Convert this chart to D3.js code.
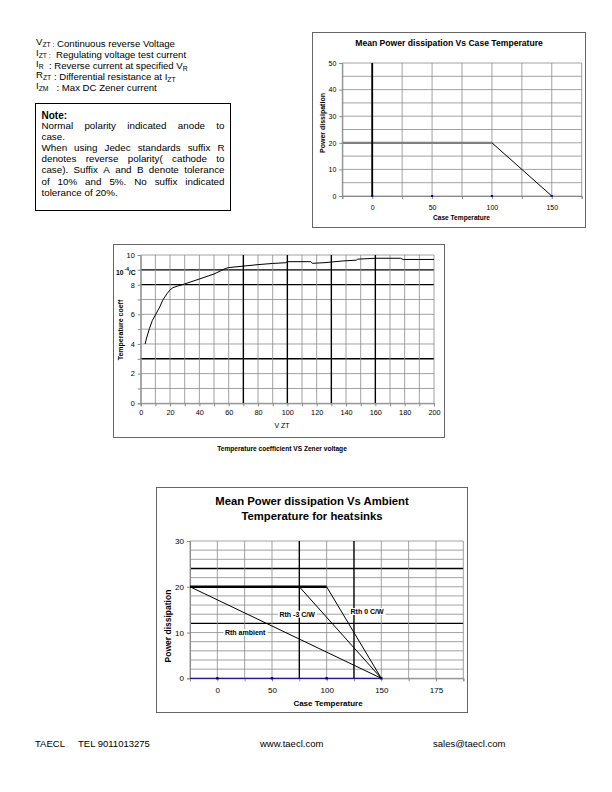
<!DOCTYPE html>
<html>
<head>
<meta charset="utf-8">
<script src="https://cdn.jsdelivr.net/npm/d3@7"></script>
<style>
body { margin: 0; background: #fff; }
svg text { font-family: "Liberation Sans", Arial, sans-serif; }
</style>
</head>
<body>
<div id="page"></div>
<script>
// ---- data ----
// chart 1: mean power dissipation vs case temperature
const c1XTicks = [0, 50, 100, 150];
const c1YTicks = [0, 10, 20, 30, 40, 50];
const c1PlateauTemp = [-25, 100];
const c1PlateauPower = [20, 20];
const c1DerateTemp = [100, 150];
const c1DeratePower = [20, 0];
const c1BarTemp = [0, 0];
const c1BarPower = [0, 50];
const c1MarkerTemp = [0, 50, 100, 150];

// chart 2: temperature coefficient vs zener voltage
const c2XTicks = [0, 20, 40, 60, 80, 100, 120, 140, 160, 180, 200];
const c2YTicks = [0, 2, 4, 6, 8, 10];
const vzt = [3, 4, 6, 8, 10, 13, 15, 18, 20, 22, 25, 30, 40, 50, 58, 60, 70, 80, 90, 99, 100, 116, 117, 125, 138, 147, 148, 160, 177, 179, 200];
const tempCoeff = [4.0, 4.4, 5.05, 5.6, 5.95, 6.5, 6.95, 7.4, 7.65, 7.8, 7.9, 8.05, 8.38, 8.72, 9.1, 9.15, 9.25, 9.35, 9.43, 9.48, 9.55, 9.55, 9.44, 9.48, 9.6, 9.65, 9.72, 9.78, 9.78, 9.7, 9.7];

// chart 3: mean power dissipation vs ambient temperature for heatsinks
const c3XTickPos = [0, 50, 100, 150, 200];
const c3XLabels = ["0", "50", "100", "150", "175"];
const c3YTicks = [0, 10, 20, 30];
const c3PlateauTemp = [-25, 100];
const c3PlateauPower = [20, 20];
const c3Rth3Temp = [75, 150];
const c3Rth3Power = [20, 0];
const c3Rth0Temp = [100, 150];
const c3Rth0Power = [20, 0];
const c3AmbTemp = [-25, 150];
const c3AmbPower = [20, 0];
const c3ZeroTemp = [-25, 150];
const c3MarkerTemp = [0, 50, 100, 150];
const c3Labels = ["Rth -3 C/W", "Rth 0 C/W", "Rth ambient"];
const c3LabelTemp = [73, 137, 25.5];
const c3LabelPower = [14, 14.6, 10];

const FONT = '"Liberation Sans", Arial, sans-serif';
const GRID = "#8a8a8a";

const svg = d3.select("#page").append("svg")
    .attr("width", 612)
    .attr("height", 792);

// ---- header text with subscripts ----
const defs = [
    [["V", 0], ["ZT :", 1], [" Continuous reverse Voltage", 0]],
    [["I", 0], ["ZT :", 1], ["  Regulating voltage test current", 0]],
    [["I", 0], ["R", 1], ["  : Reverse current at specified V", 0], ["R", 1]],
    [["R", 0], ["ZT", 1], [" : Differential resistance at I", 0], ["ZT", 1]],
    [["I", 0], ["ZM", 1], ["   : Max DC Zener current", 0]]
];
defs.forEach((parts, i) => {
    const t = svg.append("text")
        .attr("x", 36)
        .attr("y", 45.3 + i * 11)
        .attr("xml:space", "preserve")
        .style("font-size", "9.6px");
    parts.forEach(p => {
        t.append("tspan")
            .attr("dy", p[1] ? 2 : 0)
            .style("font-size", p[1] ? "6.8px" : "9.6px")
            .text(p[0]);
        if (p[1]) t.append("tspan").attr("dy", -2).text("");
    });
});

// ---- note box, justified by hand ----
svg.append("rect")
    .attr("x", 35.5).attr("y", 103.5)
    .attr("width", 195).attr("height", 107)
    .attr("fill", "none").attr("stroke", "#000");
svg.append("text")
    .attr("x", 41.5).attr("y", 118.5)
    .style("font-size", "10px").style("font-weight", "bold")
    .text("Note:");
const noteLines = [
    ["Normal polarity indicated anode to", true],
    ["case.", false],
    ["When using Jedec standards suffix R", true],
    ["denotes reverse polarity( cathode to", true],
    ["case). Suffix A and B denote tolerance", true],
    ["of 10% and 5%. No suffix indicated", true],
    ["tolerance of 20%.", false]
];
const noteLeft = 41.5, noteRight = 224.5;
noteLines.forEach((ln, i) => {
    const yy = 129 + i * 11.1;
    const words = ln[0].split(" ");
    const nodes = words.map(w => svg.append("text")
        .attr("y", yy)
        .style("font-size", "9.8px")
        .text(w));
    const widths = nodes.map(n => n.node().getComputedTextLength());
    const total = d3.sum(widths);
    const gap = ln[1] ? (noteRight - noteLeft - total) / (words.length - 1) : 2.7;
    let xx = noteLeft;
    nodes.forEach((n, k) => {
        n.attr("x", xx);
        xx += widths[k] + gap;
    });
});

// ---- helpers ----
function drawGrid(g, x, y, xs, ys, boldX, boldY) {
    const [x0, x1] = x.range();
    const [y0, y1] = y.range();
    g.selectAll(null).data(ys).join("line")
        .attr("x1", x0).attr("x2", x1)
        .attr("y1", d => y(d)).attr("y2", d => y(d))
        .attr("stroke", d => boldY.includes(d) ? "#000" : GRID)
        .attr("stroke-width", d => boldY.includes(d) ? 1.4 : 0.8);
    g.selectAll(null).data(xs).join("line")
        .attr("y1", y0).attr("y2", y1)
        .attr("x1", d => x(d)).attr("x2", d => x(d))
        .attr("stroke", d => boldX.includes(d) ? "#000" : GRID)
        .attr("stroke-width", d => boldX.includes(d) ? 1.4 : 0.8);
}

function styleAxis(g, size) {
    g.selectAll(".domain").attr("stroke", GRID);
    g.selectAll(".tick line").attr("stroke", GRID);
    g.selectAll(".tick text")
        .style("font-family", FONT)
        .style("font-size", size)
        .attr("fill", "#000");
}

function zip(a, b) { return a.map((v, i) => [v, b[i]]); }

// ---- chart 1 ----
svg.append("rect")
    .attr("x", 312.5).attr("y", 32.5)
    .attr("width", 273).attr("height", 195)
    .attr("fill", "none").attr("stroke", "#666");

const x1 = d3.scaleLinear().domain([-25, 175]).range([342.3, 581.7]);
const y1 = d3.scaleLinear().domain([0, 50]).range([196, 63]);
const g1 = svg.append("g");
drawGrid(g1, x1, y1, d3.range(-25, 176, 25), d3.range(0, 51, 5), [], []);

const ax1 = g1.append("g")
    .attr("transform", "translate(0,196)")
    .call(d3.axisBottom(x1).tickValues(d3.range(-25, 176, 25)).tickSize(3).tickPadding(6)
        .tickFormat(d => c1XTicks.includes(d) ? d : ""));
styleAxis(ax1, "7px");
const ay1 = g1.append("g")
    .attr("transform", "translate(342.3,0)")
    .call(d3.axisLeft(y1).tickValues(c1YTicks).tickSize(3).tickPadding(3));
styleAxis(ay1, "7px");

const line1 = d3.line().x(d => x1(d[0])).y(d => y1(d[1]));
g1.append("path").attr("d", line1(zip(c1PlateauTemp, c1PlateauPower)))
    .attr("fill", "none").attr("stroke", "#808080").attr("stroke-width", 2.2);
g1.append("path").attr("d", line1(zip(c1DerateTemp, c1DeratePower)))
    .attr("fill", "none").attr("stroke", "#000").attr("stroke-width", 1);
g1.append("path").attr("d", line1(zip(c1BarTemp, c1BarPower)))
    .attr("fill", "none").attr("stroke", "#000").attr("stroke-width", 1.8);
g1.selectAll(null).data(c1MarkerTemp).join("rect")
    .attr("x", d => x1(d) - 1).attr("y", y1(0) - 1)
    .attr("width", 2).attr("height", 2).attr("fill", "#000080");

svg.append("text")
    .attr("x", 449).attr("y", 46)
    .attr("text-anchor", "middle")
    .style("font-size", "8.6px").style("font-weight", "bold")
    .text("Mean Power dissipation Vs Case Temperature");
svg.append("text")
    .attr("x", 461.5).attr("y", 220)
    .attr("text-anchor", "middle")
    .style("font-size", "6.6px").style("font-weight", "bold")
    .text("Case Temperature");
svg.append("text")
    .attr("transform", "translate(324.5,123) rotate(-90)")
    .attr("text-anchor", "middle")
    .style("font-size", "7px").style("font-weight", "bold")
    .text("Power dissipation");

// ---- chart 2 ----
svg.append("rect")
    .attr("x", 113.5).attr("y", 244.5)
    .attr("width", 331).attr("height", 193)
    .attr("fill", "none").attr("stroke", "#666");

const x2 = d3.scaleLinear().domain([0, 200]).range([140.7, 434]);
const y2 = d3.scaleLinear().domain([0, 10]).range([403.3, 255]);
const g2 = svg.append("g");
drawGrid(g2, x2, y2, d3.range(0, 201, 10), d3.range(0, 11, 1), [70, 100, 130, 160], [3, 8, 9]);

const ax2 = g2.append("g")
    .attr("transform", "translate(0,403.3)")
    .call(d3.axisBottom(x2).tickValues(d3.range(0, 201, 10)).tickSize(3).tickPadding(4)
        .tickFormat(d => c2XTicks.includes(d) ? d : ""));
styleAxis(ax2, "7.3px");
const ay2 = g2.append("g")
    .attr("transform", "translate(140.7,0)")
    .call(d3.axisLeft(y2).tickValues(d3.range(0, 11, 1)).tickSize(3).tickPadding(3)
        .tickFormat(d => c2YTicks.includes(d) ? d : ""));
styleAxis(ay2, "7.3px");

g2.append("path")
    .attr("d", d3.line().x(d => x2(d[0])).y(d => y2(d[1]))(zip(vzt, tempCoeff)))
    .attr("fill", "none").attr("stroke", "#000").attr("stroke-width", 1);

const unit = svg.append("text")
    .attr("x", 116).attr("y", 275)
    .style("font-size", "6.8px").style("font-weight", "bold");
unit.append("tspan").text("10");
unit.append("tspan").attr("dx", 1).attr("dy", -4.5).style("font-size", "4.8px").text("-4");
unit.append("tspan").attr("dy", 4.5).text("/C");
svg.append("text")
    .attr("transform", "translate(123,330) rotate(-90)")
    .attr("text-anchor", "middle")
    .style("font-size", "7px").style("font-weight", "bold")
    .text("Temperature coeff");
svg.append("text")
    .attr("x", 282).attr("y", 427.5)
    .attr("text-anchor", "middle")
    .style("font-size", "7px")
    .text("V ZT");
svg.append("text")
    .attr("x", 282).attr("y", 451)
    .attr("text-anchor", "middle")
    .style("font-size", "6.6px").style("font-weight", "bold")
    .text("Temperature coefficient VS Zener voltage");

// ---- chart 3 ----
svg.append("rect")
    .attr("x", 156.5).attr("y", 487.5)
    .attr("width", 311).attr("height", 225)
    .attr("fill", "none").attr("stroke", "#666");

const x3 = d3.scaleLinear().domain([-25, 225]).range([190, 463.3]);
const y3 = d3.scaleLinear().domain([0, 30]).range([678.3, 541]);
const g3 = svg.append("g");
drawGrid(g3, x3, y3, d3.range(-25, 226, 25), d3.range(0, 31, 2), [75, 125], [12, 24]);

const ax3 = g3.append("g")
    .attr("transform", "translate(0,678.3)")
    .call(d3.axisBottom(x3).tickValues(d3.range(-25, 226, 25)).tickSize(3).tickPadding(6)
        .tickFormat(d => { const k = c3XTickPos.indexOf(d); return k >= 0 ? c3XLabels[k] : ""; }));
styleAxis(ax3, "8px");
const ay3 = g3.append("g")
    .attr("transform", "translate(190,0)")
    .call(d3.axisLeft(y3).tickValues(c3YTicks).tickSize(3).tickPadding(3));
styleAxis(ay3, "8px");

const line3 = d3.line().x(d => x3(d[0])).y(d => y3(d[1]));
g3.append("path").attr("d", line3(zip(c3ZeroTemp, [0, 0])))
    .attr("fill", "none").attr("stroke", "#000080").attr("stroke-width", 1);
g3.append("path").attr("d", line3(zip(c3PlateauTemp, c3PlateauPower)))
    .attr("fill", "none").attr("stroke", "#000").attr("stroke-width", 2.6);
[[c3Rth3Temp, c3Rth3Power], [c3Rth0Temp, c3Rth0Power], [c3AmbTemp, c3AmbPower]].forEach(s => {
    g3.append("path").attr("d", line3(zip(s[0], s[1])))
        .attr("fill", "none").attr("stroke", "#000").attr("stroke-width", 1);
});
g3.selectAll(null).data(c3MarkerTemp).join("rect")
    .attr("x", d => x3(d) - 1.2).attr("y", y3(0) - 1.2)
    .attr("width", 2.4).attr("height", 2.4)
    .attr("fill", d => d === 150 ? "#000" : "#000080");

c3Labels.forEach((lab, i) => {
    const t = g3.append("text")
        .attr("x", x3(c3LabelTemp[i])).attr("y", y3(c3LabelPower[i]) + 2.5)
        .attr("text-anchor", "middle")
        .style("font-size", "7px").style("font-weight", "bold")
        .text(lab);
    const bb = t.node().getBBox();
    g3.insert("rect", () => t.node())
        .attr("x", bb.x - 1.5).attr("y", bb.y)
        .attr("width", bb.width + 3).attr("height", bb.height)
        .attr("fill", "#fff");
});

svg.append("text")
    .attr("x", 312).attr("y", 505)
    .attr("text-anchor", "middle")
    .style("font-size", "11.3px").style("font-weight", "bold")
    .text("Mean Power dissipation Vs Ambient");
svg.append("text")
    .attr("x", 312).attr("y", 519.5)
    .attr("text-anchor", "middle")
    .style("font-size", "11.3px").style("font-weight", "bold")
    .text("Temperature for heatsinks");
svg.append("text")
    .attr("x", 328).attr("y", 706)
    .attr("text-anchor", "middle")
    .style("font-size", "8px").style("font-weight", "bold")
    .text("Case Temperature");
svg.append("text")
    .attr("transform", "translate(170.5,626) rotate(-90)")
    .attr("text-anchor", "middle")
    .style("font-size", "8.5px").style("font-weight", "bold")
    .text("Power dissipation");

// ---- footer ----
[["TAECL", 35], ["TEL 9011013275", 78], ["www.taecl.com", 260], ["sales@taecl.com", 433]].forEach(f => {
    svg.append("text")
        .attr("x", f[1]).attr("y", 747)
        .style("font-size", "9.5px")
        .text(f[0]);
});
</script>
</body>
</html>
